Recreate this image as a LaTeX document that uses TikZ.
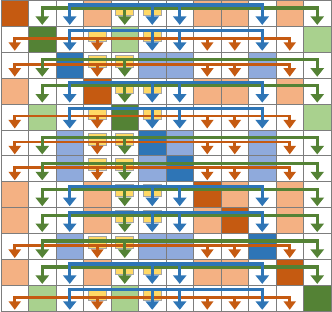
\documentclass[tikz,border=0pt]{standalone}
\usepackage{tikz}
\usetikzlibrary{arrows.meta,calc}
\definecolor{RustDark}{RGB}{197,90,17}
\definecolor{RustTint}{RGB}{244,177,131}
\definecolor{LeafDark}{RGB}{84,130,53}
\definecolor{LeafTint}{RGB}{169,209,142}
\definecolor{SeaDark}{RGB}{46,117,182}
\definecolor{SeaTint}{RGB}{143,170,220}
\definecolor{Butter}{RGB}{255,217,102}
\definecolor{GridGray}{RGB}{125,125,125}
\definecolor{BoxGray}{RGB}{166,166,166}
\tikzset{
  cell/.style    ={rectangle, draw=GridGray, line width=.8pt, minimum width=27.5pt,
                   minimum height=25.9pt, inner sep=0pt, outer sep=0pt},
  srcbox/.style  ={rectangle, draw=BoxGray, line width=.9pt, fill=Butter,
                   minimum width=18pt, minimum height=12pt, inner sep=0pt, outer sep=0pt},
  wireRust/.style={draw=RustDark, line width=2.8pt,
                   {Triangle[length=8.5pt,width=12pt]}-{Triangle[length=8.5pt,width=12pt]}},
  dropRust/.style={draw=RustDark, line width=2.8pt, -{Triangle[length=8.5pt,width=12pt]}},
  wireLeaf/.style={draw=LeafDark, line width=3.2pt,
                   {Triangle[length=8.5pt,width=13pt]}-{Triangle[length=8.5pt,width=13pt]}},
  dropLeaf/.style={draw=LeafDark, line width=3.2pt, -{Triangle[length=8.5pt,width=13pt]}},
  wireSea/.style ={draw=SeaDark, line width=3.2pt,
                   {Triangle[length=8.5pt,width=13pt]}-{Triangle[length=8.5pt,width=13pt]}},
  dropSea/.style ={draw=SeaDark, line width=3.2pt, -{Triangle[length=8.5pt,width=13pt]}},
}
% one bus per colour group: drop from the bus to every cell of the group
\newcommand{\busRust}[1]{%
  \draw[wireRust] ([yshift=1.5pt]c-#1-0.south) |- ([yshift=-12pt]c-#1-10.north)
    -- ([yshift=1.5pt]c-#1-10.south);
  \foreach \m in {3,7,8}
    \draw[dropRust] ([yshift=-12pt]c-#1-\m.north) -- ([yshift=1.5pt]c-#1-\m.south);}
\newcommand{\busLeaf}[1]{%
  \draw[wireLeaf] ([yshift=1.5pt]c-#1-1.south) |- ([yshift=-7.5pt]c-#1-11.north)
    -- ([yshift=1.5pt]c-#1-11.south);
  \draw[dropLeaf] ([yshift=-7.5pt]c-#1-4.north) -- ([yshift=1.5pt]c-#1-4.south);}
\newcommand{\busSea}[1]{%
  \draw[wireSea] ([yshift=1.5pt]c-#1-2.south) |- ([yshift=-4.5pt]c-#1-9.north)
    -- ([yshift=1.5pt]c-#1-9.south);
  \foreach \m in {5,6}
    \draw[dropSea] ([yshift=-4.5pt]c-#1-\m.north) -- ([yshift=1.5pt]c-#1-\m.south);}

\begin{document}
\begin{tikzpicture}[x=1pt,y=-1pt]
  \useasboundingbox (0,0) rectangle (332,312);

  % cells: dark on the diagonal, tint for the rest of the row's group
  \foreach \r/\rt in {0/Rust,1/Leaf,2/Sea,3/Rust,4/Leaf,5/Sea,6/Sea,7/Rust,8/Rust,9/Sea,10/Rust,11/Leaf}
    \foreach \c/\ct in {0/Rust,1/Leaf,2/Sea,3/Rust,4/Leaf,5/Sea,6/Sea,7/Rust,8/Rust,9/Sea,10/Rust,11/Leaf}{
      \ifnum\r=\c \def\shade{\rt Dark}\else\ifx\rt\ct \def\shade{\rt Tint}\else\def\shade{white}\fi\fi
      \node[cell,fill=\shade] (c-\r-\c) at ({1+27.5*(\c+.5)},{.5+25.9*(\r+.5)}) {};
    }

  % source boxes (Rust col 3, Leaf col 4, Sea col 5)
  \foreach \r/\sa/\sb in {0/4/5,1/3/5,2/3/4,3/4/5,4/3/5,5/3/4,6/3/4,7/4/5,8/4/5,9/3/4,10/4/5,11/3/5}{
    \node[srcbox] (s-\r-\sa) at ([yshift=-9pt]c-\r-\sa.north) {};
    \node[srcbox] (s-\r-\sb) at ([yshift=-9pt]c-\r-\sb.north) {};
  }

  % buses of the two other groups in every row
  \foreach \r in {0,3,7,8,10}{\busLeaf{\r}\busSea{\r}}
  \foreach \r in {1,4,11}{\busRust{\r}\busSea{\r}}
  \foreach \r in {2,5,6,9}{\busRust{\r}\busLeaf{\r}}
\end{tikzpicture}
\end{document}
